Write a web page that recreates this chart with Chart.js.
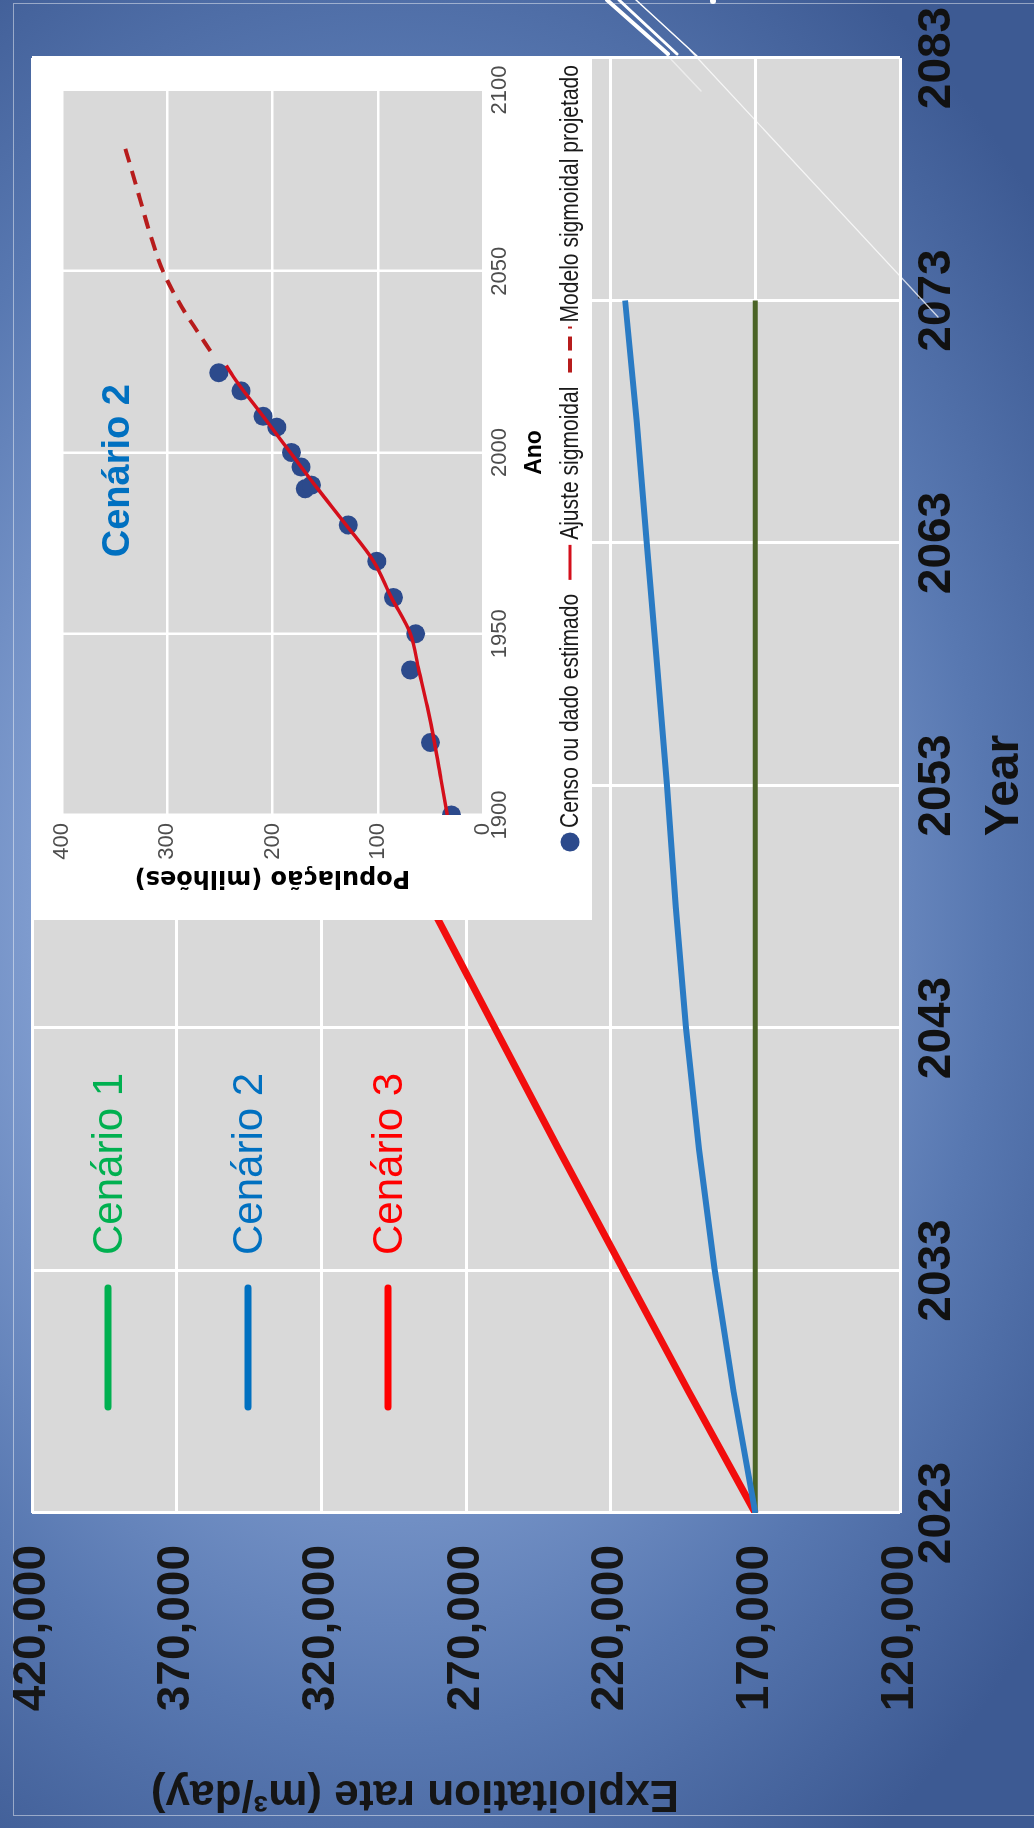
<!DOCTYPE html>
<html>
<head>
<meta charset="utf-8">
<script src="https://cdn.jsdelivr.net/npm/chart.js@4.4.0/dist/chart.umd.min.js"></script>
<style>
  html, body { margin: 0; padding: 0; }
  body {
    width: 1034px; height: 1828px; overflow: hidden; position: relative;
    background: radial-gradient(ellipse 80% 62% at 38% 50%, #a6bee7 0%, #8aa6d7 35%, #5878b1 72%, #3d5a93 100%);
  }
  #frame { position: absolute; left: 13px; top: 3px; width: 1040px; height: 1811px; border: 1px solid rgba(255,255,255,0.45); }
  /* the slide chart is drawn normally and then turned 90deg to the left */
  #stage { position: absolute; left: -397px; top: 397px; width: 1828px; height: 1034px; transform: rotate(-90deg); }
  #mainChart { position: absolute; left: 0; top: 0; }
  #insetBox { position: absolute; left: 908px; top: 32px; width: 863px; height: 560px; background: #fff; }
  #deco { position: absolute; left: 0; top: 0; pointer-events: none; }
</style>
</head>
<body>
<div id="frame"></div>
<div id="stage">
  <canvas id="mainChart" width="1828" height="1034"></canvas>
  <div id="insetBox"><canvas id="insetChart" width="863" height="560"></canvas></div>
</div>
<svg id="deco" width="1034" height="1828">
  <g stroke="#fff" fill="none" stroke-linecap="round">
    <line x1="607" y1="0" x2="668" y2="54" stroke-width="4"/>
    <line x1="619" y1="0" x2="677" y2="54" stroke-width="3"/>
    <line x1="636" y1="0" x2="697" y2="56" stroke-width="1.5"/>
    <line x1="667" y1="55" x2="701" y2="91" stroke-width="1.5" opacity="0.5"/>
    <line x1="690" y1="50" x2="938" y2="317" stroke-width="1.3" opacity="0.75"/>
  </g>
  <circle cx="713" cy="1" r="3" fill="#fff"/>
</svg>

<script>
// ---- main chart data (Exploitation rate by scenario) ----
const years = [2023, 2028, 2033, 2038, 2043, 2048, 2053, 2058, 2063, 2068, 2073];
const cenario1 = [170000, 170000, 170000, 170000, 170000, 170000, 170000, 170000, 170000, 170000, 170000];
const cenario2 = [170000, 177500, 184000, 189500, 194000, 197500, 200500, 204000, 207500, 211000, 215000];
const cenario3 = [170000, 193000, 215500, 238000, 260000, 282000, 304500, 327000, 349500, 372000, 394500];
const yearTicks = [2023, 2033, 2043, 2053, 2063, 2073, 2083];
const rateTicks = [120000, 170000, 220000, 270000, 320000, 370000, 420000];
const legendLabels = ['Cenário 1', 'Cenário 2', 'Cenário 3'];
const legendColors = ['#00B050', '#0070C0', '#FF0000'];

// ---- inset data (population, millions) ----
const censoAnos = [1900, 1920, 1940, 1950, 1960, 1970, 1980, 1990, 1991, 1996, 2000, 2007, 2010, 2017, 2022];
const censoPop = [30, 50, 69, 64, 85, 101, 128, 169, 163, 173, 182, 196, 209, 230, 251];
const ajusteAnos = [1900, 1910, 1920, 1930, 1940, 1950, 1960, 1970, 1980, 1990, 2000, 2010, 2020, 2024];
const ajustePop = [34, 40, 46, 53, 61, 69, 87, 104, 130, 157, 183, 209, 235, 244];
const projAnos = [2028, 2035, 2040, 2050, 2060, 2070, 2080, 2084];
const projPop = [259, 275, 286, 304, 316, 326, 336, 340];
const insetSeriesNames = ['Censo ou dado estimado', 'Ajuste sigmoidal', 'Modelo sigmoidal projetado'];

const SANS = '"Liberation Sans", Arial, sans-serif';

Chart.defaults.font.family = SANS;
Chart.defaults.animation = false;

const toPoints = (xs, ys) => xs.map((x, i) => ({ x: x, y: ys[i] }));

// gray panel behind the grid
const plotBackground = {
    id: 'plotBackground',
    beforeDraw(chart, args, opts) {
        const { ctx, chartArea } = chart;
        ctx.save();
        ctx.fillStyle = opts.color || '#d9d9d9';
        ctx.fillRect(chartArea.left, chartArea.top, chartArea.right - chartArea.left, chartArea.bottom - chartArea.top);
        ctx.restore();
    }
};

// legend drawn inside the plot + y title (a bit off-centre like the slide)
const scenarioLegend = {
    id: 'scenarioLegend',
    afterDatasetsDraw(chart) {
        const { ctx, chartArea } = chart;
        ctx.save();
        legendLabels.forEach((label, i) => {
            const y = chartArea.top + 76 + i * 140;
            ctx.strokeStyle = legendColors[i];
            ctx.lineWidth = 7;
            ctx.lineCap = 'round';
            ctx.beginPath();
            ctx.moveTo(chartArea.left + 106, y);
            ctx.lineTo(chartArea.left + 225, y);
            ctx.stroke();
            ctx.fillStyle = legendColors[i];
            ctx.font = '42px ' + SANS;
            ctx.textBaseline = 'middle';
            ctx.textAlign = 'left';
            ctx.fillText(label, chartArea.left + 258, y + 2);
        });
        ctx.translate(35, 415);
        ctx.rotate(-Math.PI / 2);
        ctx.fillStyle = '#151515';
        ctx.font = 'bold 44px ' + SANS;
        ctx.textAlign = 'center';
        ctx.textBaseline = 'middle';
        ctx.fillText('Exploitation rate (m³/day)', 0, 0);
        ctx.restore();
    }
};

new Chart(document.getElementById('mainChart'), {
    type: 'line',
    data: {
        datasets: [
            {
                label: 'Cenário 2',
                data: toPoints(years, cenario2),
                borderColor: '#2a7bc4',
                borderWidth: 6,
                pointRadius: 0,
                order: 1
            },
            {
                label: 'Cenário 1',
                data: toPoints(years, cenario1),
                borderColor: '#4a6326',
                borderWidth: 5,
                pointRadius: 0,
                order: 2
            },
            {
                label: 'Cenário 3',
                data: toPoints(years, cenario3),
                borderColor: '#f20d0d',
                borderWidth: 7,
                pointRadius: 0,
                order: 3
            }
        ]
    },
    options: {
        responsive: false,
        devicePixelRatio: 1,
        layout: { padding: { top: 32, right: 58, bottom: 0, left: 0 } },
        scales: {
            x: {
                type: 'linear',
                min: 2023,
                max: 2083,
                afterBuildTicks: axis => { axis.ticks = yearTicks.map(v => ({ value: v })); },
                afterFit: axis => { axis.height = 134; },
                // invisible tick marks give the label gap without padding the plot edges
                grid: { color: '#ffffff', lineWidth: 3, drawTicks: true, tickLength: 10, tickColor: 'rgba(0,0,0,0)' },
                border: { display: false },
                ticks: {
                    callback: v => String(v),
                    color: '#111',
                    padding: 0,
                    maxRotation: 0,
                    font: { size: 46, weight: 'bold' }
                },
                title: {
                    display: true,
                    text: 'Year',
                    color: '#111',
                    padding: 0,
                    font: { size: 48, weight: 'bold' }
                }
            },
            y: {
                min: 120000,
                max: 420000,
                afterBuildTicks: axis => { axis.ticks = rateTicks.map(v => ({ value: v })); },
                afterFit: axis => { axis.width = 315; },
                grid: { color: '#ffffff', lineWidth: 3, drawTicks: true, tickLength: 32, tickColor: 'rgba(0,0,0,0)' },
                border: { display: false },
                ticks: {
                    callback: v => v.toLocaleString('en-US'),
                    color: '#161616',
                    padding: 0,
                    font: { size: 46, weight: 'bold' }
                }
            }
        },
        plugins: {
            legend: { display: false },
            tooltip: { enabled: false },
            plotBackground: { color: '#d9d9d9' }
        }
    },
    plugins: [plotBackground, scenarioLegend]
});

// inset legend (narrowed text like the original figure) + "Cenário 2" tag
const insetLegend = {
    id: 'insetLegend',
    afterDraw(chart) {
        const { ctx, chartArea } = chart;
        const squeeze = 0.81;
        const symbolW = [20, 35, 46];
        const gapAfter = [4, 5, 4];
        const itemGap = 14;
        ctx.save();
        ctx.font = '26px ' + SANS;
        ctx.textBaseline = 'middle';
        ctx.textAlign = 'left';
        const widths = insetSeriesNames.map((t, i) => symbolW[i] + gapAfter[i] + ctx.measureText(t).width * squeeze);
        const total = widths.reduce((a, b) => a + b, 0) + itemGap * (widths.length - 1);
        let x = (chartArea.left + chartArea.right) / 2 - 6 - total / 2;
        const y = chart.height - 22;
        insetSeriesNames.forEach((t, i) => {
            if (i === 0) {
                ctx.fillStyle = '#2c4a8c';
                ctx.beginPath();
                ctx.arc(x + 10, y, 9.5, 0, Math.PI * 2);
                ctx.fill();
            } else {
                ctx.strokeStyle = i === 1 ? '#d40f1b' : '#b71c1c';
                ctx.lineWidth = i === 1 ? 3 : 4;
                ctx.setLineDash(i === 2 ? [14, 8] : []);
                ctx.beginPath();
                ctx.moveTo(x, y);
                ctx.lineTo(x + symbolW[i], y);
                ctx.stroke();
                ctx.setLineDash([]);
            }
            ctx.save();
            ctx.translate(x + symbolW[i] + gapAfter[i], y + 1);
            ctx.scale(squeeze, 1);
            ctx.fillStyle = '#1a1a1a';
            ctx.fillText(t, 0, 0);
            ctx.restore();
            x += widths[i] + itemGap;
        });

        const sx = chart.scales.x.getPixelForValue(1995);
        const sy = chart.scales.y.getPixelForValue(346);
        ctx.fillStyle = '#0070C0';
        ctx.font = 'bold 38px ' + SANS;
        ctx.textAlign = 'center';
        ctx.fillText('Cenário 2', sx, sy);
        ctx.restore();
    }
};

new Chart(document.getElementById('insetChart'), {
    type: 'line',
    data: {
        datasets: [
            {
                label: 'Ajuste sigmoidal',
                data: toPoints(ajusteAnos, ajustePop),
                borderColor: '#d40f1b',
                borderWidth: 3.5,
                pointRadius: 0,
                cubicInterpolationMode: 'monotone',
                order: 1
            },
            {
                label: 'Modelo sigmoidal projetado',
                data: toPoints(projAnos, projPop),
                borderColor: '#b71c1c',
                borderWidth: 4,
                borderDash: [14, 9],
                pointRadius: 0,
                cubicInterpolationMode: 'monotone',
                order: 1
            },
            {
                label: 'Censo ou dado estimado',
                data: toPoints(censoAnos, censoPop),
                showLine: false,
                pointRadius: 9.5,
                pointBorderWidth: 0,
                pointBackgroundColor: '#2c4a8c',
                order: 2
            }
        ]
    },
    options: {
        responsive: false,
        devicePixelRatio: 1,
        layout: { padding: { top: 30, right: 33, bottom: 44, left: 28 } },
        scales: {
            x: {
                type: 'linear',
                min: 1900,
                max: 2100,
                afterFit: axis => { axis.height = 65; },
                grid: { color: '#ffffff', lineWidth: 2.5, drawTicks: false },
                border: { display: false },
                ticks: {
                    stepSize: 50,
                    callback: v => String(v),
                    color: '#4d4d4d',
                    padding: 4,
                    maxRotation: 0,
                    font: { size: 22 }
                },
                title: {
                    display: true,
                    text: 'Ano',
                    color: '#000',
                    padding: 0,
                    font: { size: 23, weight: 'bold' }
                }
            },
            y: {
                min: 0,
                max: 400,
                afterFit: axis => { axis.width = 77; },
                grid: { color: '#ffffff', lineWidth: 2.5, drawTicks: false },
                border: { display: false },
                ticks: {
                    stepSize: 100,
                    color: '#4d4d4d',
                    padding: 8,
                    font: { size: 22 }
                },
                title: {
                    display: true,
                    text: 'População (milhões)',
                    color: '#000',
                    padding: 0,
                    font: { family: '"DejaVu Sans", sans-serif', size: 24, weight: 'bold' }
                }
            }
        },
        plugins: {
            legend: { display: false },
            tooltip: { enabled: false },
            plotBackground: { color: '#d9d9d9' }
        }
    },
    plugins: [plotBackground, insetLegend]
});
</script>
</body>
</html>
